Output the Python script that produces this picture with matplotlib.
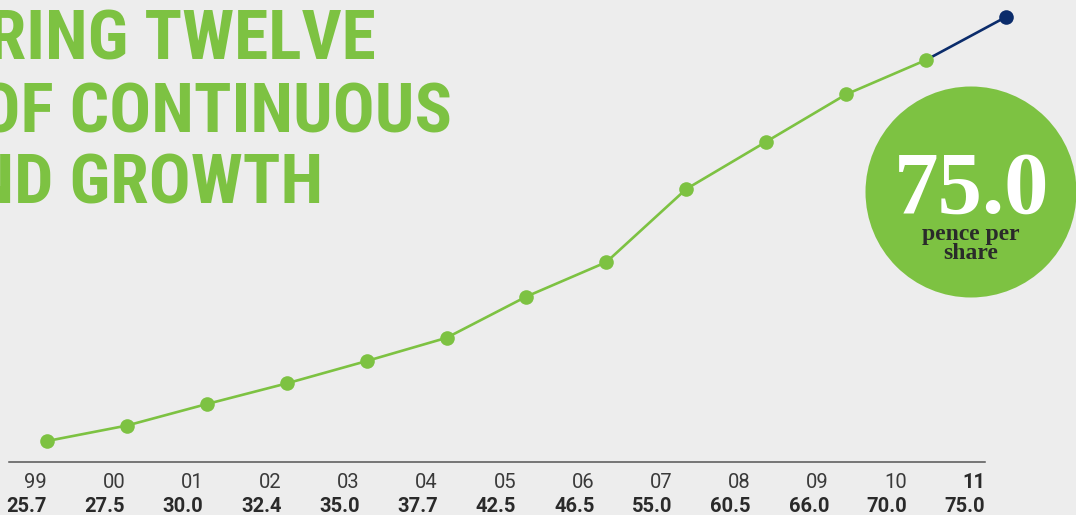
import matplotlib
matplotlib.use("Agg")
import matplotlib.pyplot as plt
from matplotlib.patches import Ellipse
from matplotlib import font_manager

# data
years = ['99', '00', '01', '02', '03', '04', '05', '06', '07', '08', '09', '10', '11']
dividend = [25.7, 27.5, 30.0, 32.4, 35.0, 37.7, 42.5, 46.5, 55.0, 60.5, 66.0, 70.0, 75.0]
value_labels = ['25.7', '27.5', '30.0', '32.4', '35.0', '37.7', '42.5', '46.5',
                '55.0', '60.5', '66.0', '70.0', '75.0']
title_lines = ['DELIVERING TWELVE', 'YEARS OF CONTINUOUS', 'DIVIDEND GROWTH']

GREEN = '#7DC242'
NAVY = '#0B2C6B'
BG = '#EDEDED'
DARK = '#2A2A2A'

W, H = 1076, 515
fig = plt.figure(figsize=(W / 100, H / 100), dpi=100, facecolor=BG)
ax = fig.add_axes([0, 0, 1, 1])
ax.set_facecolor(BG)
ax.set_xlim(-0.588, 12.878)
ax.set_ylim(17.1, 76.98)
ax.axis('off')

# pick a narrow bold face for the headline if one is installed
names = {f.name for f in font_manager.fontManager.ttflist}
title_family = 'Roboto'
for cand in ['Roboto Condensed', 'DejaVu Sans Condensed', 'Liberation Sans Narrow']:
    if cand in names:
        title_family = cand
        break


def px(x, y):
    # pixel (from top-left) -> figure fraction
    return x / W, 1 - y / H


xs = list(range(len(years)))

# green part of the line, last step in navy
ax.plot(xs[-2:], dividend[-2:], color=NAVY, lw=1.9, zorder=2)
ax.plot(xs[:-1], dividend[:-1], color=GREEN, lw=1.9, zorder=3,
        marker='o', markersize=10.5, markeredgewidth=0)
ax.plot(xs[-1:], dividend[-1:], color=NAVY, lw=0, marker='o',
        markersize=10.5, markeredgewidth=0, zorder=3)

# baseline
x0, y0 = px(9, 461.5)
x1, _ = px(985, 461.5)
fig.add_artist(plt.Line2D([x0, x1], [y0, y0], color='#555555', lw=1.1))

# year and value labels
for i, (yr, val) in enumerate(zip(years, value_labels)):
    lx = 47 + i * 78.2
    last = i == len(years) - 1
    fx, fy = px(lx, 488)
    fig.text(fx, fy, yr, ha='right', va='baseline', fontsize=14.5,
             family='Roboto', weight='bold' if last else 'normal',
             color=DARK if last else '#3A3A3A')
    fx, fy = px(lx, 512)
    fig.text(fx, fy, val, ha='right', va='baseline', fontsize=14.5,
             family='Roboto', weight='bold', color=DARK)

# title, cut off at the left edge
for line, right, base in zip(title_lines, [376, 452, 323], [60, 132, 204]):
    fx, fy = px(right, base)
    fig.text(fx, fy, line, ha='right', va='baseline', fontsize=50,
             family=title_family, weight='bold', color=GREEN)

# callout circle
cx, cy = px(971, 192)
fig.add_artist(Ellipse((cx, cy), 211 / W, 211 / H, color=GREEN, lw=0))
fx, fy = px(972, 213)
fig.text(fx, fy, '75.0', ha='center', va='baseline', fontsize=64,
         family='Liberation Serif', weight='bold', color='white')
fx, fy = px(971, 259)
fig.text(fx, fy, 'pence per\nshare', ha='center', va='baseline',
         multialignment='center', linespacing=0.85, fontsize=17,
         family='Liberation Serif', weight='bold', color=DARK)

fig.savefig('out.png', dpi=100, facecolor=BG)
